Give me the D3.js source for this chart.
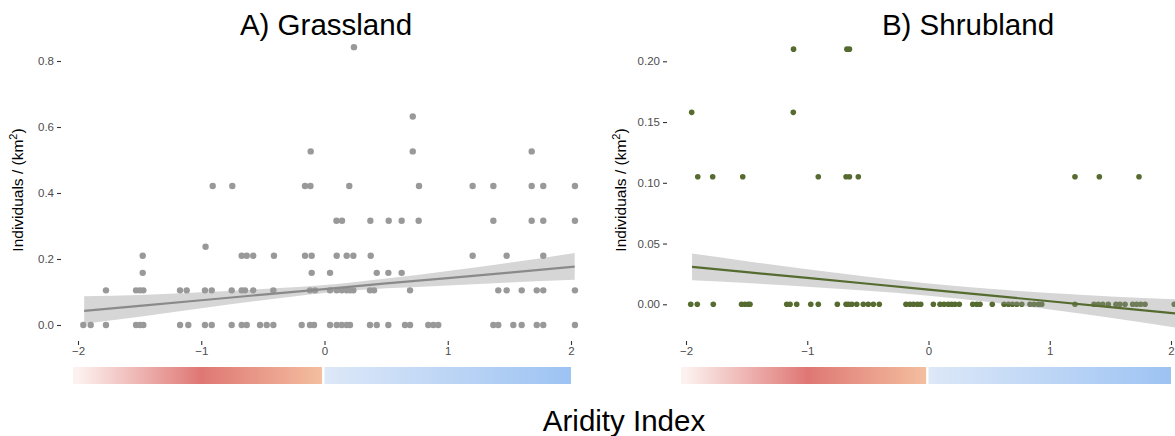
<!DOCTYPE html>
<html>
<head>
<meta charset="utf-8">
<script src="https://cdn.jsdelivr.net/npm/d3@7"></script>
<style>
  body { margin: 0; background: #fff; }
  svg { font-family: "Liberation Sans", Arial, sans-serif; display: block; }
</style>
</head>
<body>
<div id="chart"></div>
<script>
const width = 1175;
const height = 436;

// y levels (counts are discrete) and the aridity values sitting on each level
const grassLevels = [0, 0.105, 0.158, 0.21, 0.237, 0.316, 0.421, 0.526, 0.632, 0.842];
const grassAridity = [
  [-1.957, -1.897, -1.773, -1.529, -1.497, -1.470, -1.172, -1.105, -0.970, -0.915, -0.753, -0.672, -0.631,
   -0.523, -0.469, -0.415, -0.185, -0.118, -0.085, 0.045, 0.099, 0.140, 0.180, 0.207, 0.369, 0.424, 0.518,
   0.653, 0.694, 0.842, 0.883, 0.923, 1.370, 1.410, 1.532, 1.600, 1.722, 1.775, 2.032],
  [-1.773, -1.529, -1.497, -1.470, -1.172, -1.118, -0.970, -0.915, -0.753, -0.672, -0.645, -0.578, -0.415,
   -0.118, -0.077, 0.045, 0.099, 0.140, 0.180, 0.207, 0.234, 0.369, 0.402, 0.694, 1.410, 1.478, 1.600,
   1.722, 1.775, 2.032],
  [-1.475, -0.104, 0.045, 0.424, 0.518, 0.626],
  [-1.475, -0.672, -0.631, -0.578, -0.410, -0.158, -0.104, 0.099, 0.180, 0.234, 0.375, 1.202, 1.478, 1.775],
  [-0.965],
  [0.097, 0.142, 0.372, 0.521, 0.626, 0.764, 1.370, 1.681, 1.775, 2.032],
  [-0.907, -0.748, -0.158, -0.114, 0.201, 0.767, 1.202, 1.370, 1.681, 1.775, 2.032],
  [-0.112, 0.716, 1.681],
  [0.716],
  [0.239]
];

const shrubLevels = [0, 0.105, 0.158, 0.21];
const shrubAridity = [
  [-1.961, -1.907, -1.775, -1.542, -1.514, -1.487, -1.472, -1.169, -1.142, -1.087, -0.971, -0.909, -0.752,
   -0.680, -0.661, -0.633, -0.592, -0.538, -0.497, -0.455, -0.406, -0.186, -0.153, -0.124, -0.092, -0.064,
   0.040, 0.095, 0.128, 0.163, 0.191, 0.219, 0.254, 0.365, 0.398, 0.425, 0.526, 0.623, 0.659, 0.692, 0.728,
   0.769, 0.837, 0.870, 0.906, 0.934, 1.208, 1.365, 1.400, 1.437, 1.483, 1.546, 1.579, 1.621, 1.684, 1.717,
   1.750, 1.786, 2.027],
  [-1.903, -1.780, -1.532, -0.909, -0.680, -0.652, -0.579, 1.208, 1.409, 1.736],
  [-1.953, -1.115],
  [-1.113, -0.673, -0.652]
];

// linear fit + confidence band
const grassFitX  = [-1.95, -1.5, -1.0, -0.5, 0, 0.5, 1.0, 1.5, 2.03];
const grassFit   = [0.043, 0.058, 0.075, 0.092, 0.109, 0.126, 0.142, 0.159, 0.177];
const grassFitLo = [0.004, 0.025, 0.051, 0.075, 0.097, 0.111, 0.120, 0.129, 0.137];
const grassFitHi = [0.087, 0.091, 0.099, 0.109, 0.121, 0.141, 0.164, 0.189, 0.218];

const shrubFitX  = [-1.95, -1.5, -1.0, -0.5, 0, 0.5, 1.0, 1.5, 2.1];
const shrubFit   = [0.0308, 0.0265, 0.0217, 0.0169, 0.0121, 0.0073, 0.0025, -0.0023, -0.0081];
const shrubFitLo = [0.0198, 0.0175, 0.0145, 0.0111, 0.0071, 0.0018, -0.0043, -0.0111, -0.0201];
const shrubFitHi = [0.0418, 0.0355, 0.0289, 0.0227, 0.0171, 0.0128, 0.0093, 0.0065, 0.0039];

const xTicks = [-2, -1, 0, 1, 2];
const grassYTicks = [0, 0.2, 0.4, 0.6, 0.8];
const shrubYTicks = [0, 0.05, 0.10, 0.15, 0.20];

// aridity colour bar stops
const dryStops = [-2, -1, 0];
const dryColors = ["#fcf1ef", "#df7774", "#f4c0a0"];
const wetStops = [0, 2];
const wetColors = ["#dde8f8", "#9dc3f3"];

const svg = d3.select('#chart')
  .append('svg')
  .attr('width', width)
  .attr('height', height);

const defs = svg.append('defs');

const drawPanel = (p) => {
  const x = d3.scaleLinear().domain([-2, 2]).range(p.xRange);
  const y = d3.scaleLinear().domain(p.yDomain).range(p.yRange);

  const g = svg.append('g');

  // y axis
  g.append('g')
    .attr('transform', 'translate(' + p.panelLeft + ',0)')
    .call(d3.axisLeft(y).tickValues(p.yTicks).tickFormat(d3.format(p.yFmt)).tickSize(4).tickPadding(3))
    .call(a => a.select('.domain').remove())
    .call(a => a.selectAll('line').attr('stroke', '#333').attr('stroke-width', 1.1))
    .call(a => a.selectAll('text').attr('fill', '#4d4d4d').style('font-size', '11.5px'));

  // x axis
  g.append('g')
    .attr('transform', 'translate(0,' + p.panelBottom + ')')
    .call(d3.axisBottom(x).tickValues(xTicks).tickFormat(d3.format('d')).tickSize(4).tickPadding(2))
    .call(a => a.select('.domain').remove())
    .call(a => a.selectAll('line').attr('stroke', '#333').attr('stroke-width', 1.1))
    .call(a => a.selectAll('text').attr('fill', '#4d4d4d').style('font-size', '11.5px'));

  // points
  const pts = [];
  p.levels.forEach((lv, i) => p.aridity[i].forEach(v => pts.push({x: v, y: lv})));
  g.selectAll('circle.pt')
    .data(pts)
    .enter()
    .append('circle')
      .attr('class', 'pt')
      .attr('cx', d => x(d.x))
      .attr('cy', d => y(d.y))
      .attr('r', p.r)
      .attr('fill', p.color);

  // confidence band
  const band = p.fitX.map((v, i) => ({x: v, lo: p.fitLo[i], hi: p.fitHi[i], f: p.fit[i]}));
  g.append('path')
    .datum(band)
    .attr('d', d3.area().x(d => x(d.x)).y0(d => y(d.lo)).y1(d => y(d.hi)).curve(d3.curveMonotoneX))
    .attr('fill', '#999999')
    .attr('fill-opacity', 0.4);

  g.append('path')
    .datum(band)
    .attr('d', d3.line().x(d => x(d.x)).y(d => y(d.f)))
    .attr('fill', 'none')
    .attr('stroke', p.lineColor)
    .attr('stroke-width', 2.2);

  // colour bar
  const dryId = 'dry' + p.id, wetId = 'wet' + p.id;
  const x0 = x(-2.04), x1 = x(-0.02), x2 = x(0), x3 = x(2);
  const dryGrad = defs.append('linearGradient').attr('id', dryId)
    .attr('gradientUnits', 'userSpaceOnUse').attr('x1', x(-2)).attr('x2', x(0)).attr('y1', 0).attr('y2', 0);
  dryStops.forEach((s, i) => dryGrad.append('stop').attr('offset', (s + 2) / 2).attr('stop-color', dryColors[i]));
  const wetGrad = defs.append('linearGradient').attr('id', wetId)
    .attr('gradientUnits', 'userSpaceOnUse').attr('x1', x(0)).attr('x2', x(2)).attr('y1', 0).attr('y2', 0);
  wetStops.forEach((s, i) => wetGrad.append('stop').attr('offset', s / 2).attr('stop-color', wetColors[i]));

  g.append('rect').attr('x', x0).attr('y', 367).attr('width', x1 - x0).attr('height', 17)
    .attr('fill', 'url(#' + dryId + ')');
  g.append('rect').attr('x', x2).attr('y', 367).attr('width', x3 - x2).attr('height', 17)
    .attr('fill', 'url(#' + wetId + ')');

  // titles
  g.append('text')
    .attr('x', p.titleX)
    .attr('y', 35)
    .attr('text-anchor', 'middle')
    .style('font-size', '29.5px')
    .attr('fill', '#000')
    .text(p.title);

  const yt = g.append('text')
    .attr('transform', 'translate(' + p.yTitleX + ',190) rotate(-90)')
    .attr('text-anchor', 'middle')
    .style('font-size', '15.5px')
    .attr('fill', '#000');
  yt.append('tspan').text('Individuals / (km');
  yt.append('tspan').attr('dy', -6).style('font-size', '11px').text('2');
  yt.append('tspan').attr('dy', 6).text(')');
};

drawPanel({
  id: 'A', title: 'A) Grassland', titleX: 326, yTitleX: 23,
  xRange: [78, 571], yDomain: [0, 0.8], yRange: [325, 61],
  panelLeft: 61, panelBottom: 341,
  yTicks: grassYTicks, yFmt: '.1f',
  levels: grassLevels, aridity: grassAridity,
  fitX: grassFitX, fit: grassFit, fitLo: grassFitLo, fitHi: grassFitHi,
  color: '#999999', lineColor: '#8a8a8a', r: 3.2
});

drawPanel({
  id: 'B', title: 'B) Shrubland', titleX: 968, yTitleX: 626,
  xRange: [686, 1171], yDomain: [0, 0.2], yRange: [304.3, 61.3],
  panelLeft: 667, panelBottom: 341,
  yTicks: shrubYTicks, yFmt: '.2f',
  levels: shrubLevels, aridity: shrubAridity,
  fitX: shrubFitX, fit: shrubFit, fitLo: shrubFitLo, fitHi: shrubFitHi,
  color: '#556b2f', lineColor: '#556b2f', r: 2.8
});

svg.append('text')
  .attr('x', 624)
  .attr('y', 431)
  .attr('text-anchor', 'middle')
  .style('font-size', '29.5px')
  .attr('fill', '#000')
  .text('Aridity Index');
</script>
</body>
</html>
